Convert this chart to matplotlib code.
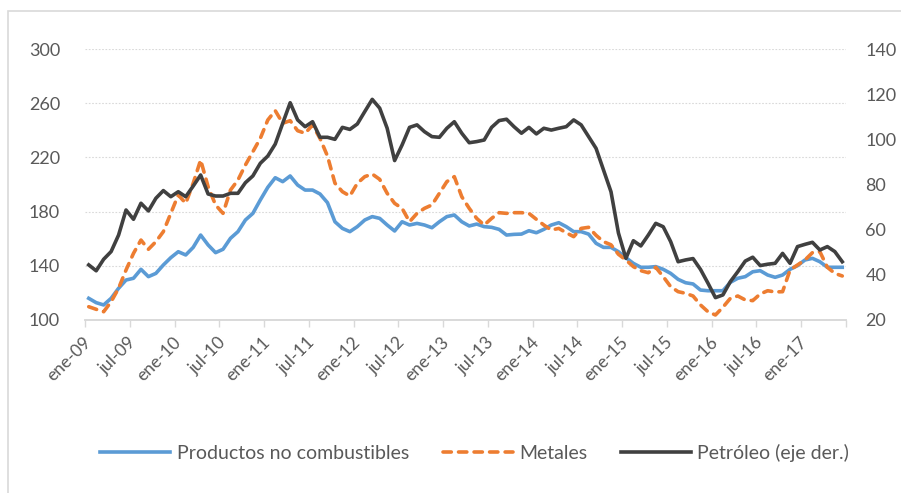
import numpy as np
import matplotlib.pyplot as plt
from matplotlib.patches import Rectangle

###
### Data (monthly, ene-09 .. jun-17)
###
meses = ['ene', 'feb', 'mar', 'abr', 'may', 'jun',
         'jul', 'ago', 'sep', 'oct', 'nov', 'dic']
fechas = ['{}-{:02d}'.format(meses[m % 12], 9 + m // 12) for m in range(102)]

no_combustibles = [
    116.0, 112.8, 111.1, 116.0, 123.4, 129.5, 130.8, 137.4, 132.0, 134.4, 140.6, 146.0,
    150.4, 148.0, 153.6, 162.7, 155.4, 149.7, 152.2, 160.3, 165.2, 173.8, 178.7, 188.6,
    197.9, 205.0, 202.1, 206.3, 199.6, 195.9, 195.9, 193.0, 186.6, 172.5, 167.6, 165.2,
    168.9, 173.8, 176.3, 175.0, 170.1, 165.7, 172.5, 170.1, 171.3, 170.1, 168.1, 172.5,
    176.3, 177.5, 172.5, 169.4, 170.8, 168.9, 168.4, 166.9, 162.7, 163.2, 163.4, 165.9,
    164.4, 166.9, 170.1, 171.8, 168.9, 165.2, 165.2, 163.4, 156.6, 153.6, 153.6, 150.4,
    146.0, 141.8, 138.9, 138.9, 139.4, 137.4, 134.4, 130.0, 127.5, 126.6, 122.1, 121.6,
    121.6, 121.6, 127.8, 130.8, 132.0, 135.6, 136.4, 133.2, 131.5, 133.2, 137.4, 140.1,
    144.3, 145.5, 143.0, 138.9, 138.9, 138.9,
]
metales = [
    109.8, 107.9, 106.1, 113.5, 123.4, 136.9, 149.2, 159.0, 152.2, 157.8, 165.2, 178.7,
    192.3, 186.1, 200.9, 218.1, 198.4, 184.9, 178.7, 195.9, 203.3, 214.4, 224.2, 234.1,
    247.6, 254.5, 245.2, 247.1, 239.7, 237.8, 243.9, 234.0, 221.0, 201.0, 194.7, 191.5,
    200.9, 205.8, 207.7, 203.8, 193.5, 186.1, 182.4, 172.5, 178.7, 182.4, 184.9, 193.5,
    202.1, 205.8, 191.0, 182.4, 175.0, 170.1, 175.0, 179.2, 178.7, 179.2, 179.2, 178.7,
    174.3, 170.1, 166.4, 167.6, 164.4, 161.5, 167.6, 168.4, 162.5, 157.8, 155.5, 148.5,
    144.3, 139.4, 136.4, 134.9, 138.9, 132.0, 124.6, 120.9, 119.7, 117.7, 111.1, 106.1,
    103.7, 109.4, 116.0, 117.7, 114.8, 114.3, 119.2, 121.6, 120.7, 120.9, 136.9, 140.6,
    144.3, 149.7, 150.4, 138.9, 134.4, 132.5,
]
petroleo = [
    44.4, 41.8, 46.9, 50.3, 57.6, 68.7, 64.6, 71.7, 68.3, 73.9, 77.3, 74.6,
    76.8, 74.6, 79.3, 84.2, 75.8, 74.9, 74.9, 76.1, 76.1, 80.8, 83.8, 89.4,
    92.6, 97.9, 107.1, 116.2, 108.6, 105.6, 107.8, 100.9, 100.9, 100.0, 105.3, 104.4,
    106.8, 112.3, 117.7, 113.8, 104.9, 90.6, 97.5, 105.3, 106.4, 103.4, 101.2, 100.9,
    104.9, 107.8, 102.7, 98.5, 99.0, 99.7, 105.3, 108.3, 108.9, 105.6, 102.7, 105.3,
    102.4, 104.9, 104.1, 104.9, 105.6, 108.6, 106.4, 101.2, 96.0, 86.4, 76.8, 58.5,
    47.3, 55.1, 52.8, 57.6, 62.8, 61.3, 54.7, 45.8, 46.6, 47.2, 42.4, 36.3,
    29.9, 31.1, 37.0, 41.4, 46.1, 47.8, 44.1, 44.7, 45.1, 49.5, 45.1, 52.5,
    53.5, 54.4, 51.0, 52.5, 50.3, 45.8,
]

###
### Style
###
plt.rcParams['font.family'] = ['Lato', 'DejaVu Sans']
c_text  = '#595959'
c_grid  = '#d9d9d9'
c_blue  = '#5b9bd5'
c_orng  = '#ed7d31'
c_dark  = '#404040'
lw      = 2.6

x = np.arange(len(fechas))

fig = plt.figure(figsize=(9.01, 4.93), dpi=100)
ax = fig.add_axes([85/901, 1-320/493, 761/901, 271/493])
ax2 = ax.twinx()

ax.plot(x, no_combustibles, color=c_blue, lw=lw,
        solid_joinstyle='round', label='Productos no combustibles')
ax.plot(x, metales, color=c_orng, lw=lw, ls=(0, (2.3, 2.0)),
        dash_capstyle='round', label='Metales')
ax2.plot(x, petroleo, color=c_dark, lw=lw,
         solid_joinstyle='round', label='Petróleo (eje der.)')

# axes limits and ticks
ax.set_xlim(-0.5, len(fechas) - 0.5)
ax.set_ylim(100, 300)
ax.set_yticks(np.arange(100, 301, 40))
ax2.set_ylim(20, 140)
ax2.set_yticks(np.arange(20, 141, 20))

ax.set_xticks(np.arange(-0.5, len(fechas), 6))
ax.set_xticklabels([])
ax.set_xticks(np.arange(0, len(fechas), 6), minor=True)
ax.set_xticklabels(fechas[::6], minor=True, rotation=45,
                   ha='right', va='center', rotation_mode='anchor')
ax.tick_params(axis='x', which='major', length=5, color=c_grid, width=1)
ax.tick_params(axis='x', which='minor', length=0, pad=14,
               labelsize=12.5, labelcolor=c_text)
ax.tick_params(axis='y', length=0, pad=18, labelsize=13, labelcolor=c_text)
ax2.tick_params(axis='y', length=0, pad=14, labelsize=13, labelcolor=c_text)

ax.yaxis.grid(True, color=c_grid, lw=0.8, ls=(0, (1.5, 1.5)))
ax.set_axisbelow(True)
for a in (ax, ax2):
    for s in ('top', 'left', 'right'):
        a.spines[s].set_visible(False)
    a.spines['bottom'].set_color(c_grid)
    a.spines['bottom'].set_linewidth(1.2)

# legend
h1, l1 = ax.get_legend_handles_labels()
h2, l2 = ax2.get_legend_handles_labels()
leg = fig.legend(h1 + h2, l1 + l2, loc='center',
                 bbox_to_anchor=(0.527, 1 - 453/493), ncol=3,
                 frameon=False, fontsize=14, handlelength=3.6,
                 handletextpad=0.35, columnspacing=1.7)
for t in leg.get_texts():
    t.set_color(c_text)

# chart border
fig.patches.append(Rectangle((8/901, -0.1), 1.2, 1.1 - 11.5/493,
                             transform=fig.transFigure, fill=False,
                             ec=c_grid, lw=1.2))

fig.savefig('out.png', dpi=100)
